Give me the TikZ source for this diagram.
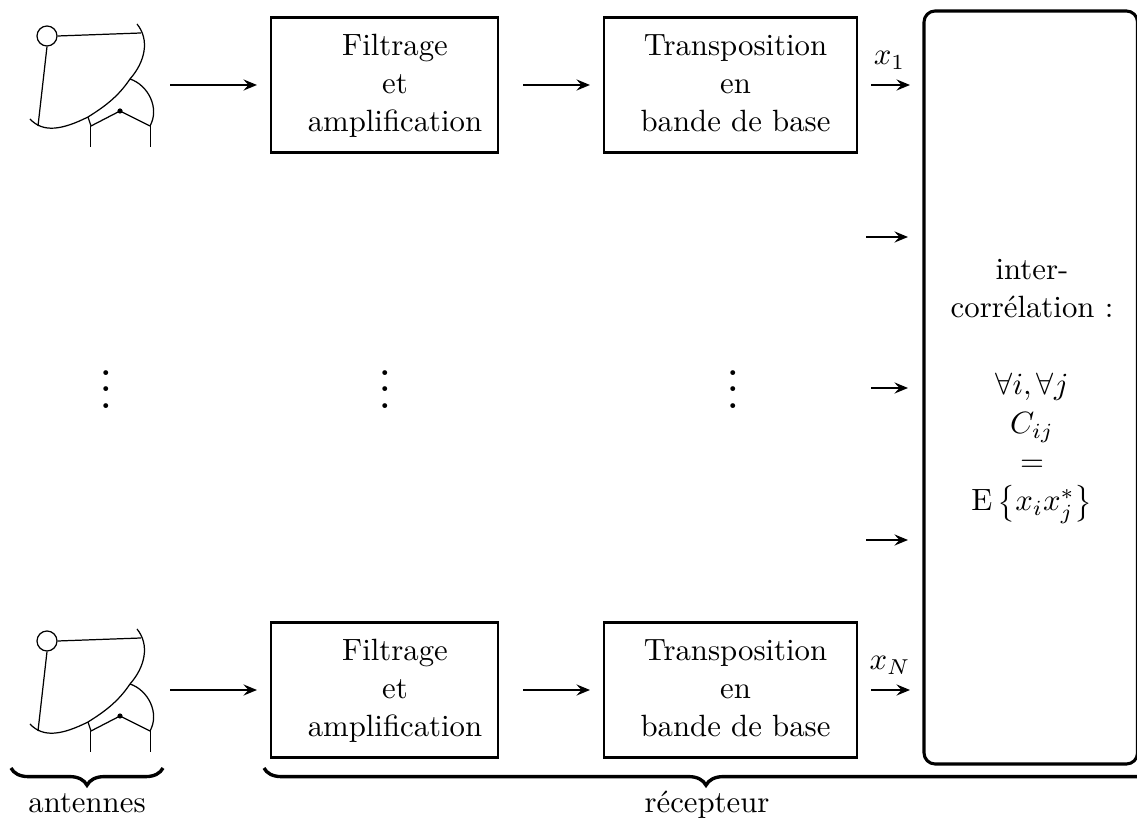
\documentclass[tikz,border=0pt]{standalone}
\usetikzlibrary{arrows.meta,decorations.pathreplacing}
\tikzset{
  px/.style={x=0.325pt,y=-0.325pt},
  blockbox/.style={draw,line width=0.8pt,inner sep=0pt,minimum width=#1,minimum height=43.9pt},
  corr/.style={draw,line width=1pt,rounded corners=3.6pt},
  blocktext/.style={align=center,inner sep=0pt},
  flow/.style={line width=0.75pt,-{Stealth[length=4.4pt,width=3.6pt,inset=1.6pt]}},
  thinl/.style={line width=0.4pt},
  bigbrace/.style={line width=1.1pt,decorate,decoration={brace,amplitude=5.6pt,#1}},
  txt/.style={inner sep=0pt,anchor=base},
}
\newcommand{\antenna}[1]{%
  \begin{scope}[yshift={-0.325pt*(#1)},thinl]
    \node[draw,circle,thinl,minimum size=6.5pt,inner sep=0pt] (c#1) at (47,36) {};
    \coordinate (d#1) at (141,33);
    \coordinate (e#1) at (38,126);
    \draw (137,24) .. controls (150,40) and (145,62) .. (130,79)
       .. controls (118,97) and (104,107) .. (88,117)
       .. controls (62,130) and (43,133) .. (30,119);
    \draw (c#1.east) -- (d#1);
    \draw (c#1.south) -- (e#1);
    \draw (130,79) .. controls (148,85) and (160,108) .. (150,126);
    \draw (88,117) -- (91,126) -- (120,111) -- (150,126);
    \draw (90.5,126) -- (90.5,147);
    \draw (150.5,126) -- (150.5,147);
    \fill (120,111) circle (2.6);
  \end{scope}}
\newcommand{\bigvdots}{\scalebox{1.35}{\large$\vdots$}}
\begin{document}
\begin{tikzpicture}[px]
\useasboundingbox (0,0) rectangle (1137,818);
\antenna{0}
\antenna{605}
% boxes
\node[blockbox=73.8pt] (f1) at (384.5,85) {};
\node[blockbox=82.2pt] (t1) at (730.5,85) {};
\node[blockbox=73.8pt] (f2) at (384.5,690) {};
\node[blockbox=82.2pt] (t2) at (730.5,690) {};
\node[blocktext] (ft1) at (395,85.5) {Filtrage\\[0.35pt]et\\[0.35pt]amplification};
\node[blocktext] (tt1) at (735.5,83) {Transposition\\[0.35pt]en\\[0.35pt]bande de base};
\node[blocktext] (ft2) at (395,690.5) {Filtrage\\[0.35pt]et\\[0.35pt]amplification};
\node[blocktext] (tt2) at (735.5,688) {Transposition\\[0.35pt]en\\[0.35pt]bande de base};
\draw[corr] (924,11) rectangle (1137.5,764);
% arrows
\coordinate (a1) at (170,85); \coordinate (a2) at (257,85);
\coordinate (b1) at (523,85); \coordinate (b2) at (590,85);
\coordinate (g1) at (871,85); \coordinate (g2) at (910,85);
\coordinate (h1) at (866,237); \coordinate (h2) at (908,237);
\coordinate (i1) at (871,388); \coordinate (i2) at (908,388);
\coordinate (j1) at (866,540); \coordinate (j2) at (908,540);
\coordinate (k1) at (170,690); \coordinate (k2) at (257,690);
\coordinate (l1) at (523,690); \coordinate (l2) at (590,690);
\coordinate (m1) at (871,690); \coordinate (m2) at (910,690);
\foreach \p/\q in {a1/a2,b1/b2,g1/g2,h1/h2,i1/i2,j1/j2,k1/k2,l1/l2,m1/m2}
  \draw[flow] (\p) -- (\q);
\node[txt] (x1) at (889.5,65) {$x_1$};
\node[txt] (xN) at (890,670) {$x_N$};
% dots
\node[inner sep=0pt] (v1) at (106,377) {\bigvdots};
\node[inner sep=0pt] (v2) at (385,377) {\bigvdots};
\node[inner sep=0pt] (v3) at (733,377) {\bigvdots};
% correlation text
\node[txt] (c1) at (1032,280) {inter-};
\node[txt] (c2) at (1032,318) {corrélation :};
\node[txt] (c3) at (1032,395) {$\forall i,\forall j$};
\node[txt] (c4) at (1032,434) {$C_{ij}$};
\node[txt] (c5) at (1032,472) {$=$};
\node[txt] (c6) at (1032,511) {$\mathrm{E}\left\{x_ix_j^*\right\}$};
% braces
\coordinate (br1) at (163,768); \coordinate (br2) at (11,768);
\draw[bigbrace] (br1) -- (br2);
\coordinate (br3) at (1500,768); \coordinate (br4) at (264,768);
\draw[bigbrace={aspect=0.6424}] (br3) -- (br4);
\node[txt] (an) at (87,812) {antennes};
\node[txt] (re) at (707,812) {récepteur};
\end{tikzpicture}
\end{document}
